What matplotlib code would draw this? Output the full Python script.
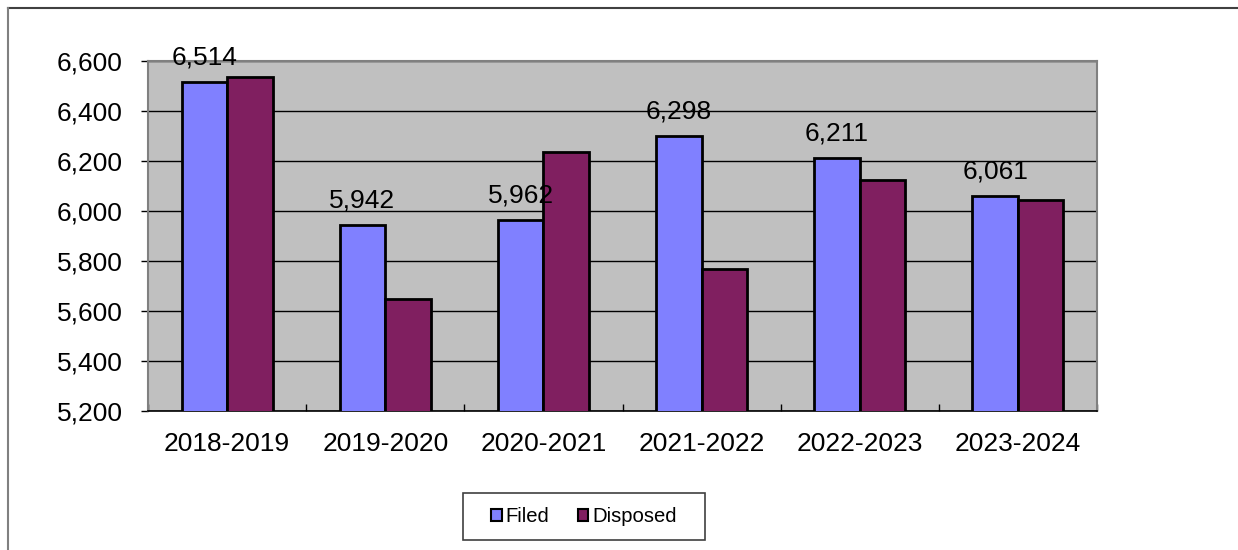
import matplotlib
matplotlib.use("Agg")
import matplotlib.pyplot as plt
from matplotlib.patches import Patch, Rectangle
from matplotlib.lines import Line2D
import numpy as np

categories = ["2018-2019", "2019-2020", "2020-2021", "2021-2022", "2022-2023", "2023-2024"]
filed = [6514, 5942, 5962, 6298, 6211, 6061]
disposed = [6533, 5647, 6236, 5766, 6122, 6043]
yticks = [5200, 5400, 5600, 5800, 6000, 6200, 6400, 6600]

plt.rcParams['font.family'] = ['Liberation Sans', 'DejaVu Sans']

W, H = 1238, 550
fig = plt.figure(figsize=(W / 100, H / 100), dpi=100)
ax = fig.add_axes([148 / W, 1 - 411 / H, (1097 - 148) / W, (411 - 60.7) / H])
ax.set_facecolor('#C0C0C0')

x = np.arange(len(categories))
bw = 0.288
ax.bar(x - bw / 2, filed, bw, color='#8080FF', edgecolor='black', linewidth=2.0, zorder=3)
ax.bar(x + bw / 2, disposed, bw, color='#801F60', edgecolor='black', linewidth=2.0, zorder=3)

for xi, v in zip(x, filed):
    ax.annotate(f"{v:,}", (xi - bw / 2, v), xytext=(0, 12.5), textcoords='offset points',
                ha='center', va='baseline', fontsize=19, color='black', zorder=5,
                annotation_clip=False)

ax.set_ylim(5200, 6600)
ax.set_xlim(-0.5, len(categories) - 0.5)
ax.set_yticks(yticks)
ax.set_yticklabels([f"{t:,}" for t in yticks], fontsize=19)
ax.yaxis.grid(True, color='black', linewidth=1.0, zorder=1)
ax.set_axisbelow(True)

ax.set_xticks(x)
ax.set_xticklabels(categories, fontsize=19)
ax.tick_params(axis='x', length=0, pad=15)
ax.tick_params(axis='y', length=5, width=1, color='black', pad=13, direction='out')
# category boundary ticks (inward)
ax.set_xticks(np.arange(len(categories) + 1) - 0.5, minor=True)
ax.tick_params(axis='x', which='minor', direction='in', length=5, width=1, color='black')

for s in ['top', 'right', 'left']:
    ax.spines[s].set_color('#808080')
    ax.spines[s].set_linewidth(1.5)
ax.spines['bottom'].set_color('black')
ax.spines['bottom'].set_linewidth(1.2)

# legend box
fig.add_artist(Rectangle((463 / W, 1 - 540 / H), (705 - 463) / W, (540 - 493) / H,
                         transform=fig.transFigure, facecolor='white', edgecolor='#404040',
                         linewidth=1.2, zorder=1))
handles = [Patch(facecolor='#8080FF', edgecolor='black', linewidth=1.5, label='Filed'),
           Patch(facecolor='#801F60', edgecolor='black', linewidth=1.5, label='Disposed')]
leg = fig.legend(handles=handles, loc='center', bbox_to_anchor=(584 / W, 1 - 516.5 / H),
                 ncol=2, fontsize=14.6, frameon=False,
                 handlelength=0.5, handleheight=0.5, handletextpad=0.2, columnspacing=1.4,
                 borderpad=0.0, borderaxespad=0)
leg.set_zorder(2)

# outer chart border (top and left visible)
fig.add_artist(Line2D([8 / W, 1.0], [1 - 8 / H, 1 - 8 / H], color='#404040', linewidth=1.5,
                      transform=fig.transFigure))
fig.add_artist(Line2D([8 / W, 8 / W], [1 - 8 / H, 0.0], color='#808080', linewidth=1.5,
                      transform=fig.transFigure))

fig.savefig('out.png', dpi=100)
